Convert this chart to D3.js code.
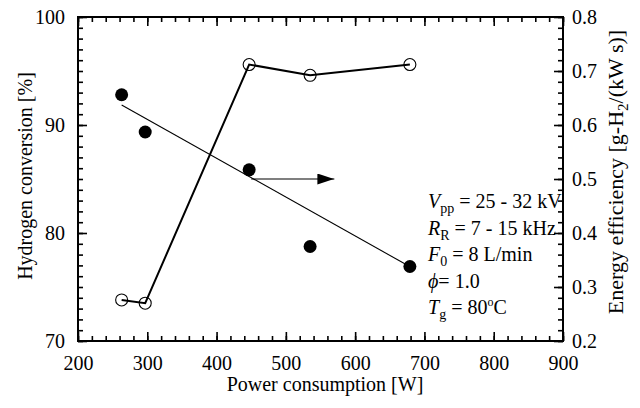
<!DOCTYPE html>
<html>
<head>
<meta charset="utf-8">
<script src="https://cdn.jsdelivr.net/npm/d3@7"></script>
<style>
  body { margin: 0; background: #fff; }
  svg { display: block; }
</style>
</head>
<body>
<svg id="chart" width="640" height="408"></svg>
<script>
// Power consumption [W] for each run
const powerW = [263, 297, 447, 535, 679];
// Hydrogen conversion [%] (left axis, open circles)
const h2Conversion = [73.8, 73.5, 95.6, 94.6, 95.6];
// Energy efficiency [g-H2/(kW s)] (right axis, filled circles)
const energyEff = [0.656, 0.587, 0.517, 0.375, 0.338];
// Trend line through the efficiency data
const trendPower = [263, 680];
const trendEff = [0.637, 0.337];
// Arrow pointing the efficiency series to its axis
const arrowPower = [450, 570];
const arrowEff = [0.5, 0.5];

// Tick values
const xTicks = [200, 300, 400, 500, 600, 700, 800, 900];
const leftTicks = [70, 80, 90, 100];
const rightTicks = [0.2, 0.3, 0.4, 0.5, 0.6, 0.7, 0.8];

const FONT = '"Liberation Serif", serif';
const svg = d3.select("#chart");
const L = 78, R = 563, T = 17, B = 341;

const x = d3.scaleLinear().domain([200, 900]).range([L, R]);
const yL = d3.scaleLinear().domain([70, 100]).range([B, T]);
const yR = d3.scaleLinear().domain([0.2, 0.8]).range([B, T]);

const xMinor = d3.range(200, 901, 20);
const leftMinor = d3.range(70, 101, 1);
const rightMinor = d3.range(0, 31).map(i => 0.2 + i * 0.02);

function styleAxis(g) {
  g.select(".domain").remove();
  g.selectAll("line").attr("stroke", "#000").attr("stroke-width", 1.6);
  g.attr("font-size", 20).attr("font-family", null);
  g.selectAll("text").style("font-family", FONT).attr("fill", "#000");
}

// Bottom axis
svg.append("g").attr("transform", `translate(0,${B})`)
  .call(d3.axisBottom(x).tickValues(xMinor).tickSize(-5).tickFormat(""))
  .call(styleAxis);
svg.append("g").attr("transform", `translate(0,${B})`)
  .call(d3.axisBottom(x).tickValues(xTicks).tickSize(-9).tickPadding(15).tickFormat(d3.format("d")))
  .call(styleAxis);
// Top axis (ticks only)
svg.append("g").attr("transform", `translate(0,${T})`)
  .call(d3.axisTop(x).tickValues(xMinor).tickSize(-5).tickFormat(""))
  .call(styleAxis);
svg.append("g").attr("transform", `translate(0,${T})`)
  .call(d3.axisTop(x).tickValues(xTicks).tickSize(-9).tickFormat(""))
  .call(styleAxis);
// Left axis
svg.append("g").attr("transform", `translate(${L},0)`)
  .call(d3.axisLeft(yL).tickValues(leftMinor).tickSize(-5).tickFormat(""))
  .call(styleAxis);
svg.append("g").attr("transform", `translate(${L},0)`)
  .call(d3.axisLeft(yL).tickValues(leftTicks).tickSize(-9).tickPadding(13).tickFormat(d3.format("d")))
  .call(styleAxis);
// Right axis
svg.append("g").attr("transform", `translate(${R},0)`)
  .call(d3.axisRight(yR).tickValues(rightMinor).tickSize(-5).tickFormat(""))
  .call(styleAxis);
svg.append("g").attr("transform", `translate(${R},0)`)
  .call(d3.axisRight(yR).tickValues(rightTicks).tickSize(-9).tickPadding(9).tickFormat(d3.format(".1f")))
  .call(styleAxis);

// Plot frame
svg.append("rect")
  .attr("x", L).attr("y", T).attr("width", R - L).attr("height", B - T)
  .attr("fill", "none").attr("stroke", "#000").attr("stroke-width", 2);

// Axis titles
svg.append("text")
  .attr("x", 325).attr("y", 391)
  .attr("text-anchor", "middle").attr("font-size", 20).style("font-family", FONT)
  .text("Power consumption [W]");

svg.append("text")
  .attr("transform", "translate(32,176) rotate(-90)")
  .attr("text-anchor", "middle").attr("font-size", 20).style("font-family", FONT)
  .text("Hydrogen conversion [%]");

const rt = svg.append("text")
  .attr("transform", "translate(623,172) rotate(-90)")
  .attr("text-anchor", "middle").attr("font-size", 22).style("font-family", FONT);
rt.append("tspan").text("Energy efficiency [g-H");
rt.append("tspan").attr("font-size", 15).attr("dy", 5).text("2");
rt.append("tspan").attr("dy", -5).text("/(kW s)]");

// Hydrogen conversion series
const h2Pts = powerW.map((p, i) => [p, h2Conversion[i]]);
svg.append("path")
  .datum(h2Pts)
  .attr("fill", "none").attr("stroke", "#000").attr("stroke-width", 2)
  .attr("d", d3.line().x(d => x(d[0])).y(d => yL(d[1])));
svg.append("g").selectAll("circle").data(h2Pts).join("circle")
  .attr("cx", d => x(d[0])).attr("cy", d => yL(d[1])).attr("r", 6)
  .attr("fill", "none").attr("stroke", "#000").attr("stroke-width", 1.1);

// Energy efficiency trend line
const trendPts = trendPower.map((p, i) => [p, trendEff[i]]);
svg.append("path")
  .datum(trendPts)
  .attr("fill", "none").attr("stroke", "#000").attr("stroke-width", 1.1)
  .attr("d", d3.line().x(d => x(d[0])).y(d => yR(d[1])));

// Energy efficiency points
const effPts = powerW.map((p, i) => [p, energyEff[i]]);
svg.append("g").selectAll("circle").data(effPts).join("circle")
  .attr("cx", d => x(d[0])).attr("cy", d => yR(d[1])).attr("r", 6.5)
  .attr("fill", "#000");

// Arrow toward the right axis
svg.append("defs").append("marker")
  .attr("id", "head").attr("markerUnits", "userSpaceOnUse")
  .attr("viewBox", "0 0 17 11").attr("refX", 17).attr("refY", 5.5)
  .attr("markerWidth", 17).attr("markerHeight", 11).attr("orient", "auto")
  .append("path").attr("d", "M0,0 L17,5.5 L0,11 Z").attr("fill", "#000");
svg.append("line")
  .attr("x1", x(arrowPower[0])).attr("y1", yR(arrowEff[0]))
  .attr("x2", x(arrowPower[1])).attr("y2", yR(arrowEff[1]))
  .attr("stroke", "#000").attr("stroke-width", 1.1)
  .attr("marker-end", "url(#head)");

// Operating conditions
const conditions = [
  [{ t: "V", it: true }, { t: "pp", sub: true }, { t: " = 25 - 32 kV" }],
  [{ t: "R", it: true }, { t: "R", sub: true }, { t: " = 7 - 15 kHz" }],
  [{ t: "F", it: true }, { t: "0", sub: true }, { t: " = 8 L/min" }],
  [{ t: "\u03D5", it: true }, { t: "= 1.0" }],
  [{ t: "T", it: true }, { t: "g", sub: true }, { t: " = 80" }, { t: "o", sup: true }, { t: "C" }]
];
const condY = [208, 235, 261, 288, 314];
conditions.forEach((parts, i) => {
  const t = svg.append("text").attr("x", 428).attr("y", condY[i])
    .attr("font-size", 20).style("font-family", FONT);
  let shift = 0;
  parts.forEach(p => {
    const s = t.append("tspan").text(p.t);
    let target = 0;
    if (p.sub) { s.attr("font-size", 14); target = 5; }
    if (p.sup) { s.attr("font-size", 12); target = -8; }
    if (p.it) s.attr("font-style", "italic");
    if (target !== shift) { s.attr("dy", target - shift); shift = target; }
  });
});
</script>
</body>
</html>
